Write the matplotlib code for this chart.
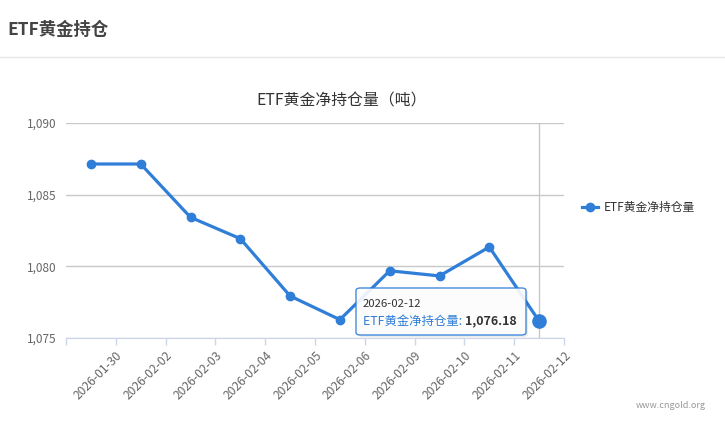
import matplotlib
matplotlib.use("Agg")
import matplotlib.pyplot as plt
from matplotlib.patches import FancyBboxPatch
from matplotlib.lines import Line2D

plt.rcParams['font.family'] = ['Noto Sans CJK SC', 'DejaVu Sans']

# 数据
dates = ["2026-01-30", "2026-02-02", "2026-02-03", "2026-02-04", "2026-02-05",
         "2026-02-06", "2026-02-09", "2026-02-10", "2026-02-11", "2026-02-12"]
holdings = [1087.14, 1087.14, 1083.42, 1081.93, 1077.93,
            1076.28, 1079.69, 1079.33, 1081.35, 1076.18]
y_ticks = [1075, 1080, 1085, 1090]

C_LINE = "#2f7ed8"
C_GRID = "#c8c8c8"
C_AXIS = "#ccd6eb"
C_TXT = "#666666"

W, H = 725, 437
fig = plt.figure(figsize=(W / 100, H / 100), dpi=100)

# 页头
fig.text(7 / W, 1 - 30 / H, "ETF黄金持仓", fontsize=12.5, fontweight="bold",
         color="#444444", va="center", ha="left")
fig.add_artist(Line2D([0, 1], [1 - 57 / H, 1 - 57 / H], color="#e6e6e6", lw=1))

ax = fig.add_axes([66 / W, 1 - 338 / H, (564 - 66) / W, (338 - 123) / H])

n = len(dates)
xs = list(range(n))
ax.plot(xs, holdings, color=C_LINE, lw=2.3, marker="o", markersize=6,
        zorder=3, clip_on=False)
# 悬停点
ax.plot([xs[-1]], [holdings[-1]], marker="o", markersize=9.5, color=C_LINE,
        zorder=4, clip_on=False)
ax.axvline(xs[-1], color=C_GRID, lw=1, zorder=1)

ax.set_xlim(-0.5, n - 0.5)
ax.set_ylim(y_ticks[0], y_ticks[-1])
ax.set_yticks(y_ticks)
ax.set_yticklabels([f"{v:,}" for v in y_ticks], color=C_TXT, fontsize=8.5)
ax.tick_params(axis="y", length=0, pad=7)
ax.grid(axis="y", color=C_GRID, lw=1)
ax.set_axisbelow(True)

ax.set_xticks([i - 0.5 for i in range(n + 1)])
ax.set_xticklabels([""] + dates, rotation=45, ha="right",
                   rotation_mode="anchor", color=C_TXT, fontsize=8.7)
ax.tick_params(axis="x", length=5, color=C_AXIS, width=1, pad=3)

for s in ["top", "right", "left"]:
    ax.spines[s].set_visible(False)
ax.spines["bottom"].set_color(C_AXIS)

# 图表标题
fig.text(342 / W, 1 - 101 / H, "ETF黄金净持仓量（吨）", fontsize=11.4,
         color="#333333", ha="center", va="center")

# 图例
ly = 1 - 207 / H
fig.add_artist(Line2D([582 / W, 598 / W], [ly, ly], color=C_LINE, lw=2.3))
fig.add_artist(Line2D([590 / W], [ly], color=C_LINE, marker="o", markersize=6))
fig.text(604 / W, ly, "ETF黄金净持仓量", fontsize=8.5, color="#333333",
         va="center", ha="left")

# 提示框
shadow = FancyBboxPatch((358 / W, 1 - 337 / H), 170 / W, 47 / H,
                        boxstyle="round,pad=0,rounding_size=0.006",
                        transform=fig.transFigure, fc="#000000", ec="none",
                        alpha=0.08)
fig.add_artist(shadow)
box = FancyBboxPatch((356 / W, 1 - 335 / H), 170 / W, 47 / H,
                     boxstyle="round,pad=0,rounding_size=0.006",
                     transform=fig.transFigure, fc="white", ec=C_LINE,
                     lw=1, alpha=0.9)
fig.add_artist(box)
fig.text(363 / W, 1 - 304 / H, dates[-1], fontsize=8.2, color="#333333",
         va="center", ha="left")
t1 = fig.text(363 / W, 1 - 321 / H, "ETF黄金净持仓量: ", fontsize=8.9,
              color=C_LINE, va="center", ha="left")
fig.canvas.draw()
x_end = t1.get_window_extent().x1 / W
fig.text(x_end, 1 - 321 / H, f"{holdings[-1]:,.2f}", fontsize=8.9,
         fontweight="bold", color="#333333", va="center", ha="left")

# 水印
fig.text(706 / W, 1 - 405 / H, "www.cngold.org", fontsize=6.5,
         color="#999999", ha="right", va="center")

fig.savefig("out.png", dpi=100)
